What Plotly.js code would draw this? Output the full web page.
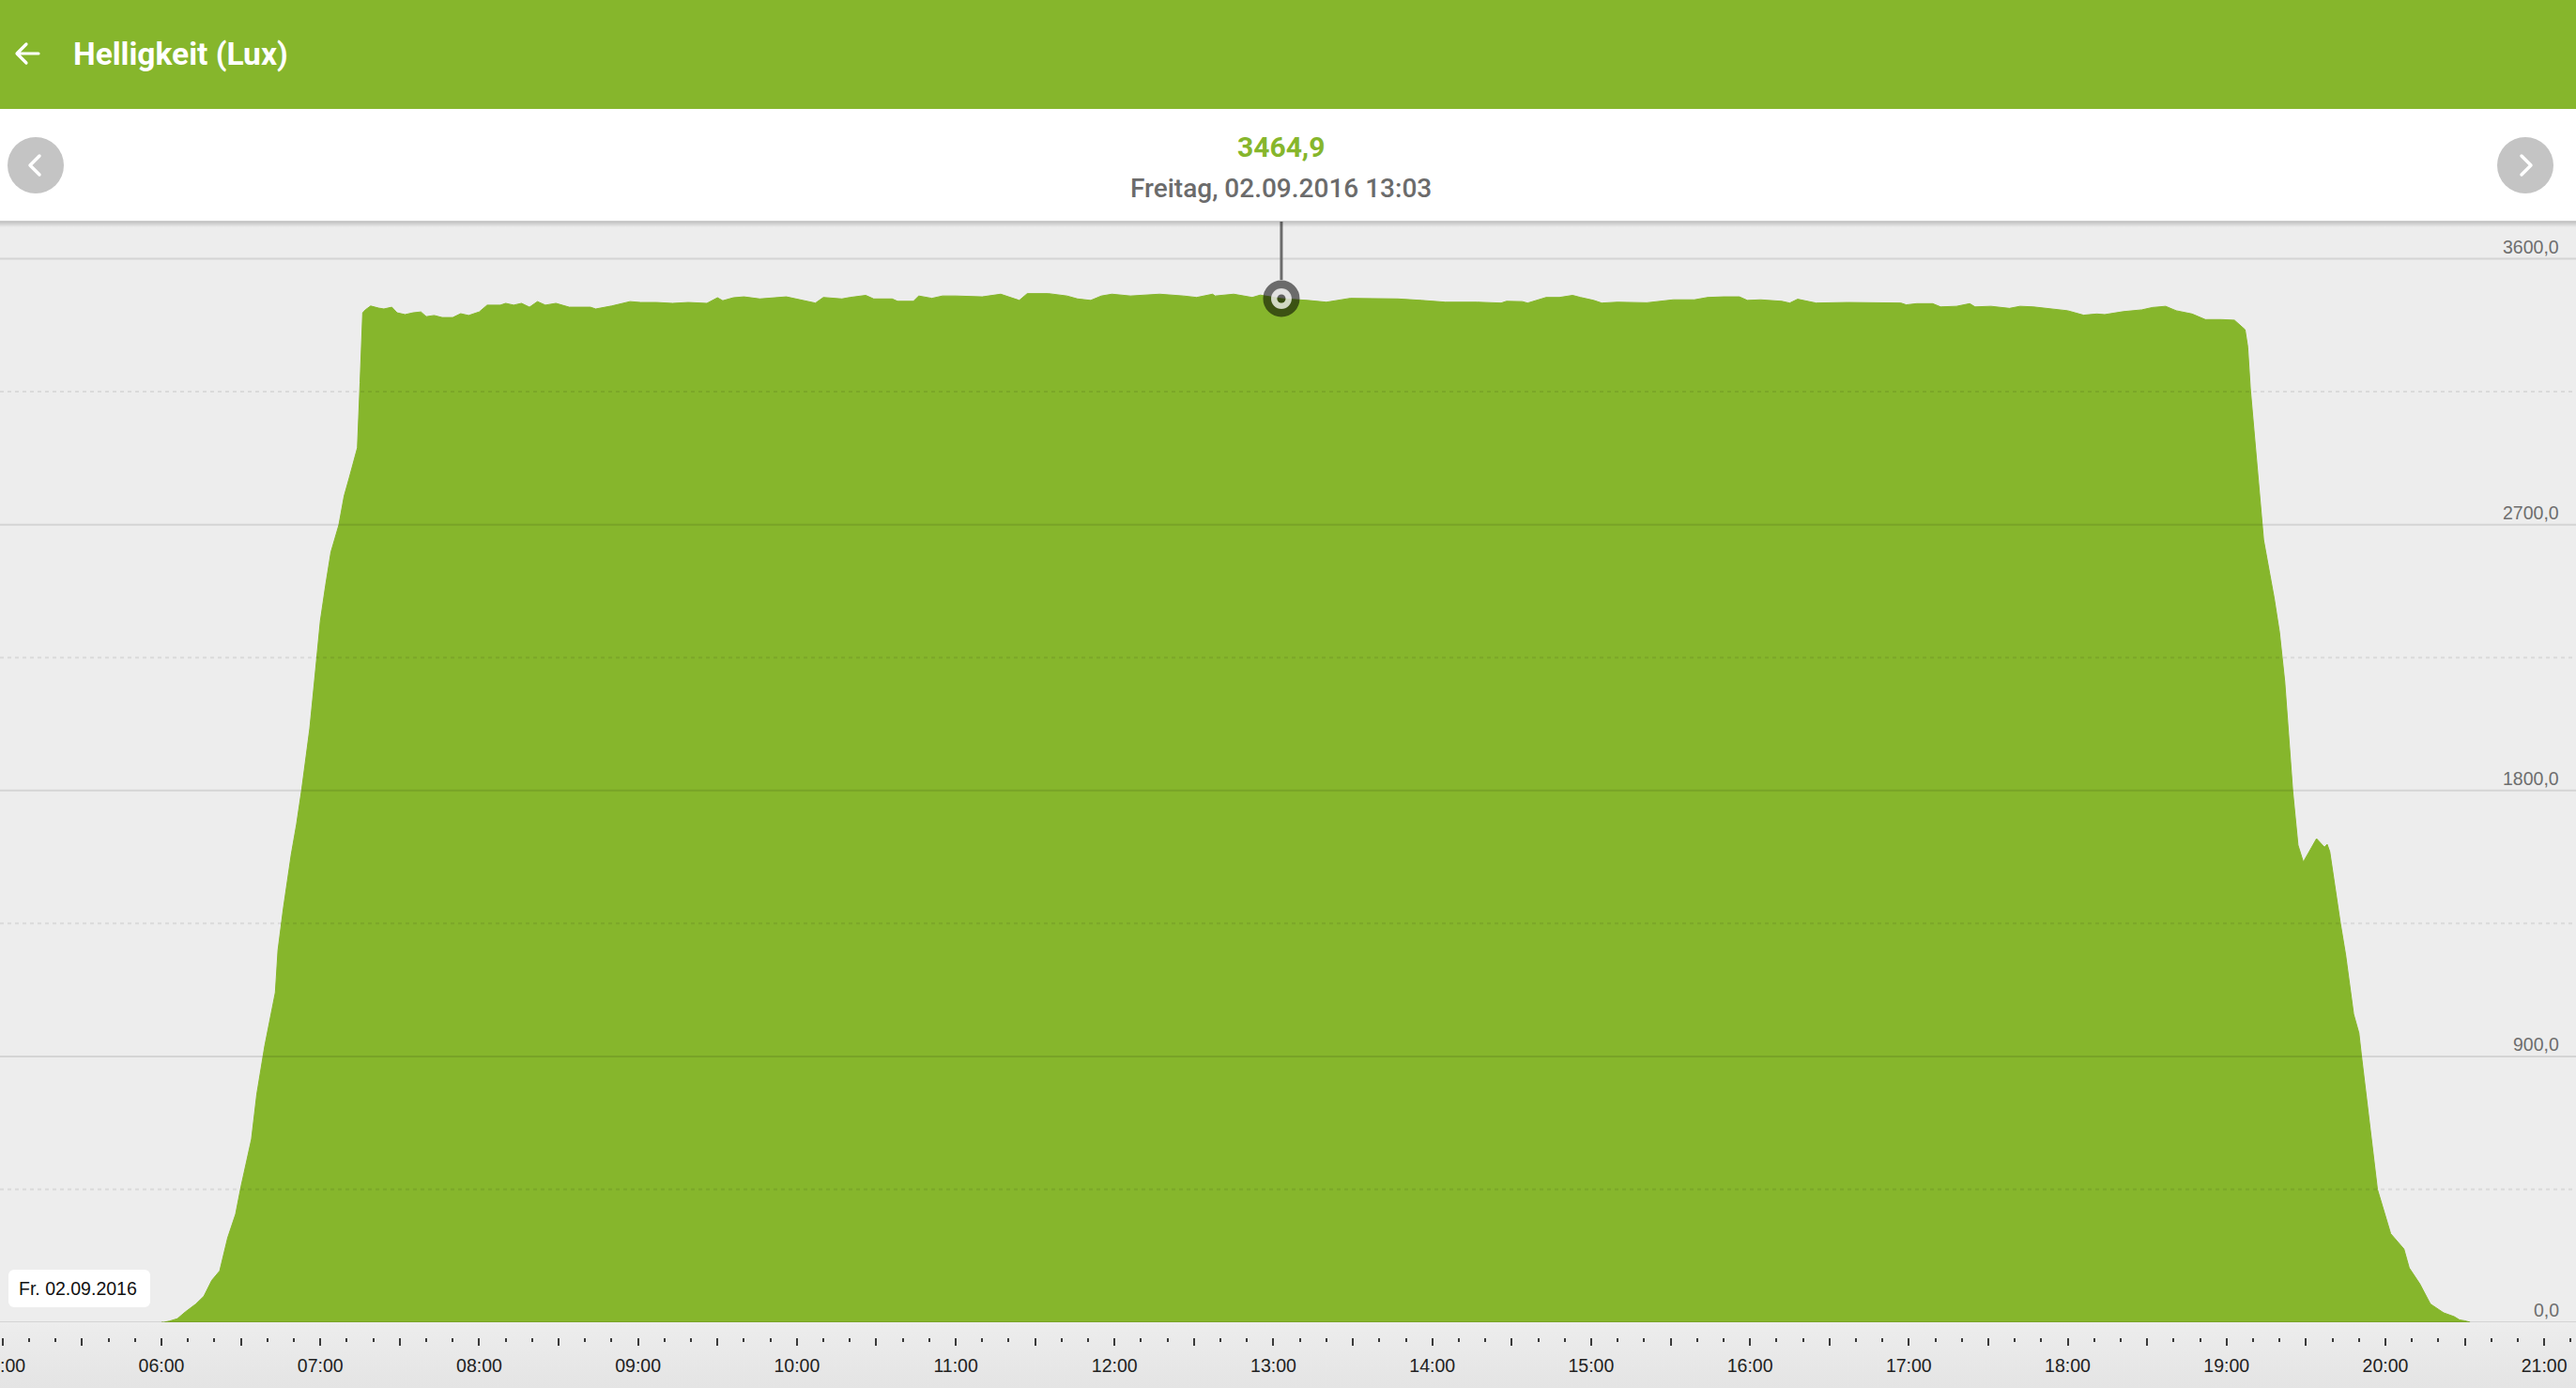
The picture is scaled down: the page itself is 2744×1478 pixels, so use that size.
<!DOCTYPE html>
<html>
<head>
<meta charset="utf-8">
<script src="https://cdn.plot.ly/plotly-3.0.1.min.js"></script>
<style>
  html, body { margin:0; padding:0; }
  body { width:2744px; height:1478px; overflow:hidden; position:relative; background:#ededed; font-family:Roboto, "Noto Sans", sans-serif; }
  #topbar { position:absolute; left:0; top:0; width:2744px; height:116px; background:#86b62c; }
  #title { position:absolute; left:78px; top:40px; font-size:33.5px; line-height:35px; font-weight:700; color:#fff; white-space:nowrap; }
  #back { position:absolute; left:14px; top:42px; }
  #infobar { position:absolute; left:0; top:116px; width:2744px; height:120px; background:#fff; }
  .btn { position:absolute; top:146px; width:60px; height:60px; border-radius:50%; background:#c4c4c4; }
  .btn svg { position:absolute; left:0; top:0; }
  #bottomstrip { position:absolute; left:0; top:1408px; width:2744px; height:70px; background:linear-gradient(#ededed, #e4e4e4); }
  #chart { position:absolute; left:0; top:0; width:2744px; height:1478px; }
  #shadow { position:absolute; left:0; top:235px; width:2744px; height:7px; background:linear-gradient(rgba(0,0,0,0.22), rgba(0,0,0,0)); pointer-events:none; }
  #datebox { position:absolute; left:9px; top:1352px; width:151px; height:40px; background:#fff; border-radius:6px; font-family:"Liberation Sans", Arial, sans-serif; font-size:19.5px; line-height:40px; color:#111; box-sizing:border-box; padding-left:11px; white-space:nowrap; }
</style>
</head>
<body>
<div id="topbar">
  <svg id="back" width="30" height="30" viewBox="0 0 30 30"><path d="M27 15 H5 M14 5 L4 15 L14 25" stroke="#fff" stroke-width="3.2" fill="none" stroke-linecap="round" stroke-linejoin="round"/></svg>
  <div id="title">Helligkeit (Lux)</div>
</div>
<div id="infobar"></div>
<div class="btn" style="left:8px;"><svg width="60" height="60"><polyline points="34,20 24,30 34,40" stroke="#fff" stroke-width="3.5" fill="none" stroke-linecap="round" stroke-linejoin="round"/></svg></div>
<div class="btn" style="left:2660px;"><svg width="60" height="60"><polyline points="26,20 36,30 26,40" stroke="#fff" stroke-width="3.5" fill="none" stroke-linecap="round" stroke-linejoin="round"/></svg></div>
<div id="bottomstrip"></div>
<div id="chart"></div>
<div id="shadow"></div>
<div id="datebox">Fr. 02.09.2016</div>
<script>
// ---------- data ----------
const day = '2016-09-02';
const dayLabel = 'Fr. 02.09.2016';
const times = [
 '06:00','06:01','06:03','06:06','06:09','06:13','06:16','06:19','06:22','06:24','06:25','06:28','06:30','06:34','06:36','06:39','06:41','06:43','06:44','06:46','06:49','06:51','06:53','06:56','06:58',
 '07:00','07:02','07:04','07:07','07:09','07:11','07:14','07:15','07:16','07:17','07:19','07:22','07:24','07:27','07:29','07:32','07:35','07:38','07:40','07:43','07:46','07:50','07:53','07:56',
 '08:00','08:03','08:08','08:10','08:13','08:16','08:19','08:22','08:25','08:29','08:34','08:42','08:44','08:50','08:54','08:57',
 '09:01','09:07','09:13','09:19','09:26','09:30','09:32','09:36','09:40','09:43','09:46','09:56',
 '10:07','10:10','10:17','10:20','10:26','10:29','10:36','10:38','10:44','10:46','10:51','10:55',
 '11:00','11:10','11:17','11:24','11:27','11:35','11:42','11:46','11:51','11:55','11:59',
 '12:06','12:17','12:26','12:31','12:37','12:38','12:45','12:52','12:55',
 '13:03','13:13','13:20','13:29','13:38','13:47','13:56',
 '14:05','14:17','14:26','14:28','14:34','14:36','14:41','14:43','14:48','14:53','14:56',
 '15:01','15:04','15:10','15:21','15:31','15:39','15:44','15:50','15:56','15:59',
 '16:04','16:12','16:15','16:18','16:22','16:25','16:37','16:48','16:57','16:59',
 '17:03','17:09','17:12','17:18','17:23','17:25','17:31','17:38','17:42','17:47','17:56',
 '18:00','18:06','18:11','18:14','18:21','18:28','18:32','18:37','18:41','18:47','18:52','18:58',
 '19:03','19:07','19:08','19:09','19:12','19:14','19:18','19:20','19:22','19:25','19:27','19:29','19:34','19:37','19:38','19:39','19:43','19:45','19:48','19:50','19:51','19:57',
 '20:02','20:07','20:09','20:13','20:17','20:22','20:26','20:28','20:30','20:32'
];
const lux = [
 0,0,4,12,35,62,88,142,174,247,286,366,458,620,772,935,1024,1116,1259,1399,1583,1685,1806,2009,2190,
 2374,2495,2607,2699,2797,2861,2960,3180,3417,3427,3440,3433,3430,3436,3417,3411,3417,3420,3404,3408,3401,3401,3414,3408,
 3420,3443,3443,3449,3443,3449,3436,3455,3443,3449,3436,3436,3430,3440,3449,3455,
 3452,3452,3449,3452,3449,3468,3458,3468,3471,3467,3464,3471,
 3450,3469,3464,3469,3476,3464,3464,3456,3456,3474,3466,3474,
 3474,3471,3480,3459,3482,3482,3474,3464,3459,3474,3480,
 3474,3480,3474,3469,3480,3474,3480,3469,3477,
 3464.9,3459,3453,3466,3464,3464,3459,
 3453,3453,3450,3456,3455,3450,3463,3469,3469,3476,3469,
 3459,3450,3453,3451,3461,3461,3469,3471,3471,3459,
 3461,3456,3450,3463,3456,3450,3452,3451,3450,3444,
 3448,3448,3437,3439,3448,3437,3439,3432,3439,3437,3428,
 3424,3409,3413,3411,3421,3427,3435,3439,3424,3413,3394,3394,
 3392,3360,3302,3160,2848,2648,2451,2336,2168,1799,1615,1558,1637,1608,1618,1593,1351,1243,1043,979,900,450,
 300,248,184,130,62,32,19,8,5,0
];
// highlighted reading
const markerTime = '13:03';
const markerValue = 3464.9;
const markerLabel = 'Freitag, 02.09.2016 13:03';
// axis labels
const hourLabels = ['05:00','06:00','07:00','08:00','09:00','10:00','11:00','12:00','13:00','14:00','15:00','16:00','17:00','18:00','19:00','20:00','21:00'];
const yTicks = [0, 900, 1800, 2700, 3600];
const yTickText = ['0,0', '900,0', '1800,0', '2700,0', '3600,0'];
const yDashed = [450, 1350, 2250, 3150];

// ---------- layout helpers ----------
const W = 2744, H = 1478;
const mT = 236, mB = 54;
const plotH = H - mT - mB;          // 1188
const yBottomPx = 1408;              // pixel of value 0
const yDomainStart = (H - mB - yBottomPx) / plotH;
const yMax = 3725.6;
const pxPerVal = (yBottomPx - mT) / yMax;
const toPaper = p => (H - mB - p) / plotH;

const xs = times.map(t => day + ' ' + t);
const mX = day + ' ' + markerTime;

// half-hour major ticks, labels only on the hour
const tickvals = [], ticktext = [];
hourLabels.forEach((h, i) => {
  tickvals.push(day + ' ' + h); ticktext.push(h);
  if (i < hourLabels.length - 1) { tickvals.push(day + ' ' + h.slice(0,2) + ':30'); ticktext.push(''); }
});

const green = '#86b62c';
const traces = [
  { x: xs, y: lux, type: 'scatter', mode: 'lines', fill: 'tozeroy', fillcolor: green,
    line: { color: green, width: 1 }, hoverinfo: 'skip' },
  { x: [mX], y: [markerValue], type: 'scatter', mode: 'markers', hoverinfo: 'skip',
    marker: { symbol: 'circle', size: 30, color: 'rgba(0,0,0,0)', line: { color: 'rgba(0,0,0,0.55)', width: 9 } } },
  { x: [mX], y: [markerValue], type: 'scatter', mode: 'markers', hoverinfo: 'skip',
    marker: { symbol: 'circle', size: 15.5, color: 'rgba(0,0,0,0)', line: { color: 'rgba(222,222,222,0.85)', width: 6.5 } } },
  { x: [mX], y: [markerValue], type: 'scatter', mode: 'markers', hoverinfo: 'skip',
    marker: { symbol: 'circle', size: 9, color: 'rgba(0,0,0,0.6)', line: { width: 0 } } }
];

const shapes = [];
yTicks.forEach(v => shapes.push({ type: 'line', xref: 'paper', x0: 0, x1: 1, yref: 'y', y0: v, y1: v,
  layer: 'above', line: { color: 'rgba(0,0,0,0.1)', width: 2 } }));
yDashed.forEach(v => shapes.push({ type: 'line', xref: 'paper', x0: 0, x1: 1, yref: 'y', y0: v, y1: v,
  layer: 'above', line: { color: 'rgba(0,0,0,0.08)', width: 2, dash: '4px,4px' } }));
shapes.push({ type: 'line', xref: 'x', x0: mX, x1: mX, yref: 'y', y0: markerValue + 20 / pxPerVal, y1: yMax,
  layer: 'above', line: { color: '#6b6b6b', width: 3 } });

// y tick labels: right-aligned just above each solid grid line
const yLabelAnnots = yTicks.map((v, i) => ({
  xref: 'paper', x: 1, xshift: -16, xanchor: 'right',
  yref: 'y', y: v, yanchor: 'bottom', yshift: 0, showarrow: false,
  text: yTickText[i],
  font: { family: 'Liberation Sans, Arial, sans-serif', size: 19.5, color: '#6e6e6e' }
}));

const layout = {
  width: W, height: H,
  margin: { l: 0, r: 0, t: mT, b: mB, pad: 0 },
  paper_bgcolor: 'rgba(0,0,0,0)',
  plot_bgcolor: '#ededed',
  showlegend: false,
  xaxis: {
    type: 'date', range: [day + ' 04:59:00', day + ' 21:12:00'],
    anchor: 'free', position: 0,
    tickmode: 'array', tickvals: tickvals, ticktext: ticktext,
    ticks: 'outside', ticklen: 8, tickwidth: 2, tickcolor: '#3a3a3a',
    ticklabeloverflow: 'allow', ticklabelstandoff: 5,
    minor: { tickmode: 'linear', tick0: day + ' 05:00', dtick: 600000, ticks: 'outside', ticklen: 4, tickwidth: 2, tickcolor: '#3a3a3a', showgrid: false },
    showgrid: false, zeroline: false, showline: false,
    tickfont: { family: 'Liberation Sans, Arial, sans-serif', size: 19.5, color: '#222' },
    fixedrange: true
  },
  yaxis: {
    range: [0, yMax], domain: [yDomainStart, 1], side: 'right',
    showticklabels: false, ticks: '',
    showgrid: false, zeroline: false, showline: false,
    fixedrange: true
  },
  shapes: shapes,
  annotations: yLabelAnnots.concat([
    { xref: 'x', x: mX, yref: 'paper', y: toPaper(156), yanchor: 'middle', xanchor: 'center', showarrow: false,
      text: markerValue.toFixed(1).replace('.', ','),
      font: { family: 'Roboto, sans-serif', size: 30, color: green, weight: 700 } },
    { xref: 'x', x: mX, yref: 'paper', y: toPaper(200), yanchor: 'middle', xanchor: 'center', showarrow: false,
      text: markerLabel,
      font: { family: 'Roboto, sans-serif', size: 28, color: '#6b6b6b', weight: 500 } }
  ])
};

document.getElementById('datebox').textContent = dayLabel;
Plotly.newPlot('chart', traces, layout, { staticPlot: true, displayModeBar: false });
</script>
</body>
</html>
